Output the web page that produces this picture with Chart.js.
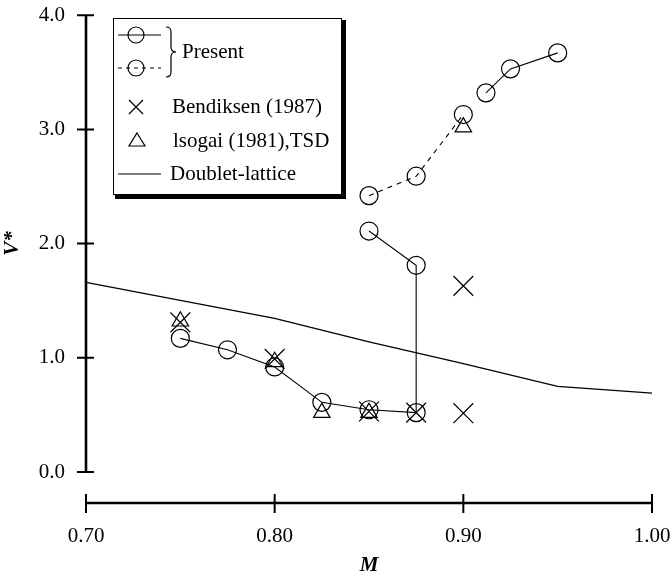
<!DOCTYPE html>
<html><head><meta charset="utf-8">
<script src="https://cdn.jsdelivr.net/npm/chart.js@4"></script>
<style>html,body{margin:0;padding:0;background:#fff;}#wrap{width:672px;height:579px;position:relative;}</style>
</head><body><div id="wrap"><canvas id="c" width="672" height="579"></canvas></div>
<script>
const xTicks = [0.70, 0.80, 0.90, 1.00];
const yTicks = [0, 1, 2, 3, 4];
const presentLowerM = [0.75, 0.775, 0.80, 0.825, 0.85, 0.875, 0.875, 0.85];
const presentLowerV = [1.17, 1.07, 0.92, 0.61, 0.545, 0.52, 1.81, 2.11];
const presentDashM = [0.85, 0.875, 0.90];
const presentDashV = [2.42, 2.59, 3.13];
const presentUpperM = [0.912, 0.925, 0.95];
const presentUpperV = [3.32, 3.53, 3.67];
const bendiksenM = [0.75, 0.80, 0.85, 0.875, 0.90, 0.90];
const bendiksenV = [1.31, 0.99, 0.53, 0.52, 1.63, 0.515];
const isogaiM = [0.75, 0.80, 0.825, 0.85, 0.90];
const isogaiV = [1.32, 0.965, 0.52, 0.52, 3.02];
const doubletM = [0.70, 0.80, 0.85, 0.90, 0.95, 1.00];
const doubletV = [1.66, 1.345, 1.14, 0.95, 0.75, 0.69];
const legendLabels = ['Present', 'Bendiksen (1987)', 'lsogai (1981),TSD', 'Doublet-lattice'];
const xTitle = 'M';
const yTitle = 'V*';

const FONT = "'Liberation Serif', 'Times New Roman', serif";
const pts = (m, v) => m.map((x, i) => ({x: x, y: v[i]}));

const axesPlugin = {
  id: 'axesPlugin',
  afterDraw(chart) {
    const ctx = chart.ctx, xs = chart.scales.x, ys = chart.scales.y;
    const ax = xs.getPixelForValue(xTicks[0]);
    const y0 = ys.getPixelForValue(yTicks[0]);
    const yTop = ys.getPixelForValue(yTicks[yTicks.length - 1]);
    const xAxisY = y0 + 31;
    ctx.save();
    ctx.strokeStyle = '#000';
    ctx.lineCap = 'butt';
    ctx.lineWidth = 2.6;
    ctx.beginPath();
    ctx.moveTo(ax, yTop); ctx.lineTo(ax, y0);
    ctx.moveTo(ax, xAxisY); ctx.lineTo(xs.getPixelForValue(xTicks[xTicks.length - 1]), xAxisY);
    ctx.stroke();
    ctx.lineWidth = 2;
    ctx.beginPath();
    yTicks.forEach(v => { const p = ys.getPixelForValue(v); ctx.moveTo(ax - 9, p); ctx.lineTo(ax + 8, p); });
    xTicks.forEach(v => { const p = xs.getPixelForValue(v); ctx.moveTo(p, xAxisY - 9); ctx.lineTo(p, xAxisY + 10); });
    ctx.stroke();
    ctx.restore();
  }
};

const legendPlugin = {
  id: 'legendPlugin',
  afterDraw(chart) {
    const ctx = chart.ctx;
    ctx.save();
    ctx.fillStyle = '#fff';
    ctx.fillRect(113, 18, 229, 177);
    ctx.strokeStyle = '#000';
    ctx.lineWidth = 1;
    ctx.strokeRect(113.5, 18.5, 228, 176);
    ctx.fillStyle = '#000';
    ctx.fillRect(341, 20, 5, 179);
    ctx.fillRect(115, 194, 231, 5);

    ctx.lineWidth = 1.2;
    ctx.beginPath(); ctx.moveTo(118, 35); ctx.lineTo(161, 35); ctx.stroke();
    ctx.beginPath(); ctx.arc(136, 35, 8, 0, Math.PI * 2); ctx.stroke();
    ctx.setLineDash([4, 4]);
    ctx.beginPath(); ctx.moveTo(118, 68); ctx.lineTo(161, 68); ctx.stroke();
    ctx.setLineDash([]);
    ctx.beginPath(); ctx.arc(136, 68, 8, 0, Math.PI * 2); ctx.stroke();
    ctx.beginPath();
    ctx.moveTo(166, 27);
    ctx.quadraticCurveTo(171, 27, 171, 32);
    ctx.lineTo(171, 47);
    ctx.quadraticCurveTo(171, 52, 176, 52);
    ctx.quadraticCurveTo(171, 52, 171, 57);
    ctx.lineTo(171, 72);
    ctx.quadraticCurveTo(171, 77, 166, 77);
    ctx.stroke();
    ctx.beginPath();
    ctx.moveTo(129, 100); ctx.lineTo(143, 114);
    ctx.moveTo(143, 100); ctx.lineTo(129, 114);
    ctx.stroke();
    ctx.beginPath();
    ctx.moveTo(137, 133); ctx.lineTo(145, 146); ctx.lineTo(129, 146); ctx.closePath();
    ctx.stroke();
    ctx.beginPath(); ctx.moveTo(118, 174); ctx.lineTo(161, 174); ctx.stroke();

    ctx.font = "21px " + FONT;
    ctx.textBaseline = 'middle';
    ctx.textAlign = 'left';
    ctx.fillText(legendLabels[0], 182, 52);
    ctx.fillText(legendLabels[1], 172, 107);
    ctx.fillText(legendLabels[2], 173, 141);
    ctx.fillText(legendLabels[3], 170, 174);
    ctx.restore();
  }
};

const circleDs = (label, data, dash) => ({
  label: label, data: data, showLine: true,
  borderColor: '#000', borderWidth: 1.1, borderDash: dash || [],
  pointStyle: 'circle', pointRadius: 9, pointBorderWidth: 1.2,
  pointBackgroundColor: 'rgba(0,0,0,0)', pointBorderColor: '#000',
  fill: false, tension: 0
});

function zeroPad(s) { s.paddingLeft = 0; s.paddingRight = 0; s.paddingTop = 0; s.paddingBottom = 0; }

new Chart(document.getElementById('c'), {
  type: 'scatter',
  data: {
    datasets: [
      {label: 'Doublet-lattice', data: pts(doubletM, doubletV), showLine: true, borderColor: '#000', borderWidth: 1.3, pointRadius: 0, fill: false},
      circleDs('Present', pts(presentLowerM, presentLowerV)),
      circleDs('Present (dashed)', pts(presentDashM, presentDashV), [5, 5]),
      circleDs('Present (upper)', pts(presentUpperM, presentUpperV)),
      {label: 'Bendiksen (1987)', data: pts(bendiksenM, bendiksenV), showLine: false, pointStyle: 'crossRot', pointRadius: 14, pointBorderWidth: 1.2, pointBorderColor: '#000', pointBackgroundColor: '#000'},
      {label: 'Isogai (1981),TSD', data: pts(isogaiM, isogaiV), showLine: false, pointStyle: 'triangle', pointRadius: 9.5, pointBorderWidth: 1.2, pointBorderColor: '#000', pointBackgroundColor: 'rgba(0,0,0,0)'}
    ]
  },
  options: {
    responsive: false, animation: false, devicePixelRatio: 1,
    layout: {padding: {left: 0, right: 20, top: 13, bottom: 0}},
    plugins: {legend: {display: false}, tooltip: {enabled: false}},
    elements: {point: {hoverRadius: 9}},
    clip: false,
    scales: {
      x: {
        type: 'linear', min: xTicks[0], max: xTicks[xTicks.length - 1],
        afterBuildTicks: s => { s.ticks = xTicks.map(v => ({value: v})); },
        afterFit: s => { s.height = 107; zeroPad(s); },
        grid: {display: false, drawTicks: false}, border: {display: false},
        ticks: {color: '#000', padding: 52, maxRotation: 0, autoSkip: false, font: {family: FONT, size: 21}, callback: v => Number(v).toFixed(2)},
        title: {display: true, text: xTitle, color: '#000', padding: {top: 0, bottom: 1}, font: {family: FONT, size: 21, style: 'italic', weight: 'bold'}}
      },
      y: {
        type: 'linear', min: yTicks[0], max: yTicks[yTicks.length - 1],
        afterBuildTicks: s => { s.ticks = yTicks.map(v => ({value: v})); },
        afterFit: s => { s.width = 86; zeroPad(s); },
        grid: {display: false, drawTicks: false}, border: {display: false},
        ticks: {color: '#000', padding: 21, autoSkip: false, font: {family: FONT, size: 21}, callback: v => Number(v).toFixed(1)},
        title: {display: true, text: yTitle, color: '#000', padding: {top: 0, bottom: 0}, font: {family: FONT, size: 21, style: 'italic', weight: 'bold'}}
      }
    }
  },
  plugins: [axesPlugin, legendPlugin]
});
</script></body></html>
